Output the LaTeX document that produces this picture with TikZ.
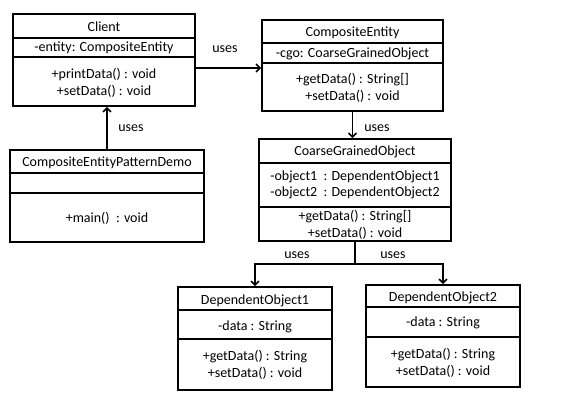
\documentclass[tikz,border=0pt]{standalone}
\usepackage{fontspec}
\setmainfont{Carlito}
\usetikzlibrary{arrows.meta,calc}

\begin{document}
\begin{tikzpicture}[x=1pt, y=-1pt,
    classbox/.style={draw, line width=1.6pt, inner sep=0pt},
    txt/.style={font=\fontsize{14}{16.5}\selectfont, align=center, inner sep=0pt},
    uses/.style={line width=1.6pt, -{Straight Barb[length=4pt,width=8pt,line width=1.6pt]}}]
    % Page with its margins
    \useasboundingbox (0,0) rectangle (570,406);

    % Draw the class boxes
    \node[classbox, minimum width=182, minimum height=92] (client) at (104,60) {};
    \node[classbox, minimum width=194, minimum height=92] (demo) at (107,196) {};
    \node[classbox, minimum width=181, minimum height=91] (entity) at (352.5,65.5) {};
    \node[classbox, minimum width=192, minimum height=102] (coarse) at (355,190) {};
    \node[classbox, minimum width=154, minimum height=103] (dep1) at (255,338.5) {};
    \node[classbox, minimum width=154, minimum height=102] (dep2) at (443,336) {};

    % Draw the compartment lines
    \draw[line width=1.3pt] (13,38) -- (195,38) (13,57) -- (195,57);
    \draw[line width=1.3pt] (10,173) -- (204,173) (10,193) -- (204,193);
    \draw[line width=1.3pt] (262,43) -- (443,43) (262,63) -- (443,63);
    \draw[line width=1.3pt] (259,163) -- (451,163) (259,207) -- (451,207);
    \draw[line width=1.3pt] (178,310) -- (332,310) (178,339) -- (332,339);
    \draw[line width=1.3pt] (366,307) -- (520,307) (366,337) -- (520,337);

    % Client
    \node[txt] (clientname) at (104,26.5) {Client};
    \node[txt] (clientattr) at (104,48) {-entity: CompositeEntity};
    \node[txt] (clientops) at (104,83) {+printData() : void\\+setData() : void};

    % CompositeEntityPatternDemo
    \node[txt] (demoname) at (107,163) {CompositeEntityPatternDemo};
    \node[txt] (demoops) at (107,218) {+main()~ : void};

    % CompositeEntity
    \node[txt] (entityname) at (352.5,33) {CompositeEntity};
    \node[txt] (entityattr) at (352.5,54) {-cgo: CoarseGrainedObject};
    \node[txt] (entityops) at (352.5,88) {+getData() : String[]\\+setData() : void};

    % CoarseGrainedObject
    \node[txt] (coarsename) at (355,152) {CoarseGrainedObject};
    \node[txt] (coarseattr) at (355,185) {-object1~ : DependentObject1\\-object2~ : DependentObject2};
    \node[txt] (coarseops) at (355,225) {+getData() : String[]\\+setData() : void};

    % DependentObject1 and DependentObject2
    \node[txt] (dep1name) at (255,301) {DependentObject1};
    \node[txt] (dep1attr) at (255,327) {-data : String};
    \node[txt] (dep1ops) at (255,365) {+getData() : String\\+setData() : void};
    \node[txt] (dep2name) at (443,298) {DependentObject2};
    \node[txt] (dep2attr) at (443,323) {-data : String};
    \node[txt] (dep2ops) at (443,363) {+getData() : String\\+setData() : void};

    % Draw the uses arrows
    \coordinate (fork) at ($(coarse.south)+(0,22)$);
    \draw[uses] ($(client.east)+(0,8)$) -- (entity.west |- 0,68);
    \draw[uses] (demo.north) -- (demo.north |- client.south);
    \draw[uses] (entity.south) -- (entity.south |- coarse.north);
    \draw[line width=1.6pt] (coarse.south) -- (fork);
    \draw[uses] (fork) -| (dep1.north);
    \draw[uses] (fork) -| (dep2.north);

    % Arrow labels
    \node[txt] (uses1) at (225,49) {uses};
    \node[txt] (uses2) at (131,128) {uses};
    \node[txt] (uses3) at (377,128) {uses};
    \node[txt] (uses4) at (297,255) {uses};
    \node[txt] (uses5) at (393,255) {uses};
\end{tikzpicture}
\end{document}
